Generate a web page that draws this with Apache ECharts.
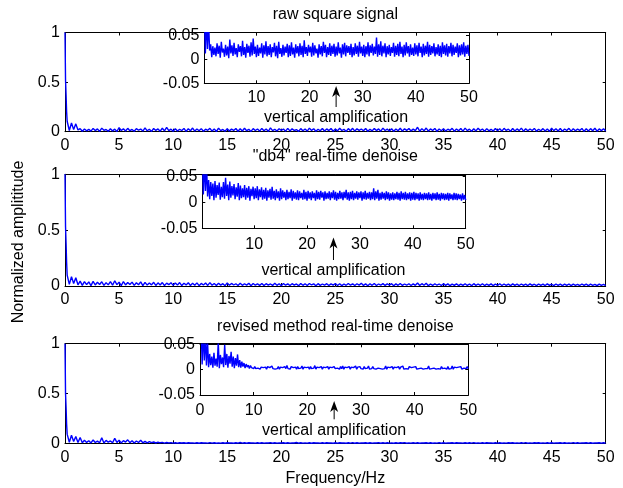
<!DOCTYPE html>
<html>
<head>
<meta charset="utf-8">
<script src="https://cdn.jsdelivr.net/npm/echarts@6/dist/echarts.min.js"></script>
<style>
  html, body { margin: 0; padding: 0; background: #fff; }
  #chart { width: 623px; height: 488px; }
</style>
</head>
<body>
<div id="chart"></div>
<script>
// Normalized amplitude spectra (0-50 Hz) of the raw square signal and two denoised versions.
// The first few bins around DC are finer; the rest use a 0.2 Hz bin width.
const spikeHz = [0, 0.05, 0.1, 0.15];
const binHz = 0.2; // spectrum values below start at 0.2 Hz and end at 50 Hz

const rawHead = [1.0, 0.52, 0.37, 0.2];
const rawAmp = [
  0.105, 0.012, 0.088, 0.021, 0.079, 0.018, 0.031, 0.004, 0.027, 0.009,
  0.024, 0.006, 0.033, 0.011, 0.028, 0.003, 0.036, 0.014, 0.022, 0.005,
  0.030, 0.008, 0.026, 0.002, 0.041, 0.012, 0.029, 0.007, 0.034, 0.010,
  0.023, 0.004, 0.031, 0.015, 0.027, 0.006, 0.038, 0.009, 0.025, 0.003,
  0.032, 0.013, 0.028, 0.005, 0.035, 0.008, 0.043, 0.011, 0.026, 0.004,
  0.030, 0.007, 0.024, 0.012, 0.033, 0.003, 0.029, 0.010, 0.037, 0.006,
  0.027, 0.009, 0.031, 0.004, 0.025, 0.014, 0.034, 0.006, 0.028, 0.002,
  0.036, 0.011, 0.023, 0.005, 0.030, 0.008, 0.026, 0.013, 0.032, 0.004,
  0.029, 0.007, 0.035, 0.010, 0.024, 0.003, 0.031, 0.012, 0.027, 0.006,
  0.033, 0.009, 0.028, 0.004, 0.039, 0.011, 0.025, 0.007, 0.030, 0.014,
  0.026, 0.005, 0.034, 0.008, 0.029, 0.012, 0.022, 0.003, 0.031, 0.010,
  0.027, 0.006, 0.036, 0.013, 0.030, 0.004, 0.025, 0.009, 0.033, 0.007,
  0.028, 0.011, 0.032, 0.005, 0.026, 0.008, 0.035, 0.012, 0.024, 0.003,
  0.031, 0.010, 0.034, 0.006, 0.029, 0.013, 0.027, 0.009, 0.032, 0.004,
  0.025, 0.008, 0.033, 0.011, 0.028, 0.005, 0.036, 0.012, 0.026, 0.007,
  0.030, 0.004, 0.027, 0.010, 0.035, 0.006, 0.029, 0.013, 0.032, 0.008,
  0.026, 0.011, 0.045, 0.005, 0.031, 0.009, 0.037, 0.006, 0.028, 0.012,
  0.033, 0.004, 0.027, 0.010, 0.030, 0.007, 0.025, 0.013, 0.034, 0.005,
  0.028, 0.009, 0.032, 0.006, 0.036, 0.011, 0.026, 0.004, 0.030, 0.008,
  0.035, 0.012, 0.027, 0.005, 0.031, 0.009, 0.024, 0.007, 0.033, 0.010,
  0.029, 0.006, 0.034, 0.013, 0.026, 0.004, 0.032, 0.008, 0.028, 0.011,
  0.036, 0.005, 0.030, 0.009, 0.027, 0.012, 0.033, 0.006, 0.025, 0.010,
  0.031, 0.007, 0.028, 0.004, 0.035, 0.011, 0.029, 0.008, 0.032, 0.005,
  0.027, 0.012, 0.034, 0.006, 0.030, 0.009, 0.026, 0.013, 0.033, 0.004,
  0.029, 0.008, 0.031, 0.010, 0.035, 0.005, 0.028, 0.011, 0.030, 0.007
];

const db4Head = [1.0, 0.53, 0.38, 0.21];
const db4Amp = [
  0.098, 0.015, 0.084, 0.022, 0.074, 0.011, 0.043, 0.006, 0.039, 0.012,
  0.036, 0.004, 0.041, 0.009, 0.033, 0.014, 0.038, 0.005, 0.030, 0.010,
  0.039, 0.007, 0.047, 0.012, 0.034, 0.004, 0.040, 0.009, 0.031, 0.013,
  0.035, 0.006, 0.029, 0.011, 0.037, 0.004, 0.032, 0.008, 0.027, 0.010,
  0.033, 0.005, 0.028, 0.009, 0.031, 0.003, 0.026, 0.012, 0.030, 0.006,
  0.027, 0.008, 0.031, 0.004, 0.025, 0.010, 0.029, 0.005, 0.024, 0.007,
  0.028, 0.003, 0.023, 0.009, 0.026, 0.005, 0.030, 0.007, 0.022, 0.004,
  0.025, 0.008, 0.021, 0.003, 0.027, 0.006, 0.023, 0.009, 0.020, 0.004,
  0.024, 0.006, 0.020, 0.008, 0.025, 0.003, 0.022, 0.007, 0.019, 0.005,
  0.023, 0.004, 0.021, 0.008, 0.018, 0.005, 0.024, 0.006, 0.020, 0.003,
  0.022, 0.007, 0.019, 0.004, 0.021, 0.008, 0.018, 0.003, 0.023, 0.006,
  0.020, 0.005, 0.022, 0.009, 0.019, 0.003, 0.021, 0.006, 0.018, 0.007,
  0.021, 0.004, 0.019, 0.008, 0.023, 0.005, 0.020, 0.003, 0.018, 0.006,
  0.022, 0.007, 0.019, 0.004, 0.020, 0.008, 0.024, 0.005, 0.019, 0.003,
  0.020, 0.006, 0.022, 0.004, 0.018, 0.007, 0.021, 0.005, 0.019, 0.008,
  0.021, 0.003, 0.019, 0.006, 0.022, 0.005, 0.018, 0.007, 0.020, 0.004,
  0.019, 0.006, 0.027, 0.004, 0.021, 0.007, 0.024, 0.003, 0.018, 0.005,
  0.020, 0.007, 0.018, 0.004, 0.021, 0.006, 0.019, 0.003, 0.017, 0.005,
  0.019, 0.004, 0.017, 0.006, 0.020, 0.005, 0.018, 0.003, 0.021, 0.006,
  0.018, 0.005, 0.020, 0.004, 0.017, 0.006, 0.019, 0.003, 0.018, 0.005,
  0.020, 0.004, 0.018, 0.006, 0.017, 0.003, 0.019, 0.005, 0.016, 0.004,
  0.018, 0.006, 0.017, 0.004, 0.019, 0.005, 0.016, 0.003, 0.018, 0.006,
  0.017, 0.004, 0.019, 0.005, 0.016, 0.003, 0.018, 0.006, 0.017, 0.004,
  0.016, 0.005, 0.018, 0.003, 0.017, 0.006, 0.015, 0.004, 0.018, 0.005,
  0.017, 0.004, 0.016, 0.006, 0.015, 0.003, 0.017, 0.005, 0.014, 0.004
];

const revisedHead = [1.0, 0.5, 0.36, 0.19];
const revisedAmp = [
  0.092, 0.010, 0.081, 0.018, 0.069, 0.008, 0.058, 0.005, 0.031, 0.009,
  0.026, 0.004, 0.033, 0.008, 0.022, 0.006, 0.055, 0.003, 0.029, 0.011,
  0.024, 0.005, 0.049, 0.009, 0.031, 0.004, 0.027, 0.012, 0.035, 0.006,
  0.026, 0.003, 0.023, 0.008, 0.030, 0.005, 0.019, 0.004, 0.016, 0.006,
  0.013, 0.003, 0.011, 0.005, 0.009, 0.002, 0.008, 0.004, 0.007, 0.002,
  0.006, 0.002, 0.005, 0.003, 0.006, 0.001, 0.005, 0.003, 0.004, 0.002,
  0.005, 0.001, 0.006, 0.003, 0.004, 0.002, 0.007, 0.002, 0.005, 0.001,
  0.004, 0.002, 0.006, 0.001, 0.005, 0.003, 0.004, 0.001, 0.006, 0.002,
  0.008, 0.002, 0.005, 0.001, 0.006, 0.003, 0.004, 0.002, 0.005, 0.001,
  0.006, 0.002, 0.004, 0.003, 0.007, 0.001, 0.005, 0.002, 0.004, 0.003,
  0.005, 0.001, 0.006, 0.002, 0.004, 0.003, 0.008, 0.001, 0.005, 0.002,
  0.004, 0.002, 0.006, 0.001, 0.005, 0.003, 0.004, 0.002, 0.006, 0.001,
  0.005, 0.003, 0.004, 0.001, 0.006, 0.002, 0.005, 0.003, 0.004, 0.001,
  0.006, 0.002, 0.007, 0.001, 0.005, 0.002, 0.004, 0.003, 0.006, 0.001,
  0.005, 0.002, 0.004, 0.003, 0.007, 0.001, 0.005, 0.002, 0.006, 0.002,
  0.004, 0.001, 0.006, 0.002, 0.005, 0.003, 0.007, 0.001, 0.004, 0.002,
  0.006, 0.002, 0.005, 0.001, 0.004, 0.003, 0.006, 0.002, 0.005, 0.001,
  0.004, 0.002, 0.007, 0.001, 0.005, 0.002, 0.004, 0.003, 0.006, 0.001,
  0.005, 0.003, 0.004, 0.002, 0.006, 0.001, 0.005, 0.002, 0.007, 0.001,
  0.004, 0.002, 0.005, 0.001, 0.006, 0.003, 0.004, 0.001, 0.005, 0.002,
  0.006, 0.001, 0.004, 0.002, 0.005, 0.003, 0.006, 0.001, 0.004, 0.002,
  0.005, 0.002, 0.007, 0.001, 0.004, 0.002, 0.005, 0.003, 0.006, 0.001,
  0.004, 0.002, 0.005, 0.001, 0.006, 0.002, 0.004, 0.003, 0.005, 0.001,
  0.006, 0.001, 0.004, 0.002, 0.007, 0.001, 0.005, 0.002, 0.004, 0.003,
  0.005, 0.002, 0.006, 0.001, 0.004, 0.003, 0.005, 0.002, 0.006, 0.002
];

// Axis ranges and tick labels
const mainXTicks = [0, 5, 10, 15, 20, 25, 30, 35, 40, 45, 50];
const mainYTicks = [0, 0.5, 1];
const insetYTicks = [-0.05, 0, 0.05];
const insetXTicksShort = [10, 20, 30, 40, 50];
const insetXTicksFull = [0, 10, 20, 30, 40, 50];

const titles = ['raw square signal', '"db4" real-time denoise', 'revised method real-time denoise'];
const noteText = 'vertical amplification';
const xName = 'Frequency/Hz';
const yName = 'Normalized amplititude';

function spectrum(head, tail) {
  const pts = spikeHz.map((f, i) => [f, head[i]]);
  tail.forEach((v, i) => pts.push([+((i + 1) * binHz).toFixed(1), v]));
  return pts;
}

const FONT = '"Liberation Sans", Arial, Helvetica, sans-serif';
const FS = 16;
const BLUE = '#0000ff';
const LW = 1.4;

// Layout of the three panels (main axes, magnified inset, annotation rows)
const panels = [
  { data: spectrum(rawHead, rawAmp), titleY: 15,
    main: { left: 65, top: 32.5, width: 540.7, height: 99.2 },
    inset: { left: 204.3, top: 32.7, width: 264.7, height: 50.6 },
    insetMin: 0.2, insetYMax: 0.055, insetTicks: insetXTicksShort, insetLabelMargin: 6,
    tipY: 86, tailY: 107, noteY: 117.7 },
  { data: spectrum(db4Head, db4Amp), titleY: 157,
    main: { left: 65, top: 174.3, width: 540.7, height: 111.7 },
    inset: { left: 202.3, top: 175, width: 263.4, height: 53.3 },
    insetMin: 0.2, insetYMax: 0.0525, insetTicks: insetXTicksShort, insetLabelMargin: 8,
    tipY: 237.5, tailY: 260, noteY: 271 },
  { data: spectrum(revisedHead, revisedAmp), titleY: 326.7,
    main: { left: 65, top: 343.7, width: 540.7, height: 99.6 },
    inset: { left: 200, top: 344.3, width: 268.3, height: 50.7 },
    insetMin: 0, insetYMax: 0.05, insetTicks: insetXTicksFull, insetLabelMargin: 8,
    tipY: 401, tailY: 419.3, noteY: 430.7 }
];

const grids = [], xAxes = [], yAxes = [], series = [];
const lineStyle = { color: '#000', width: 1 };
const label = (show, margin) => ({ show, color: '#000', fontSize: FS, fontFamily: FONT, margin });

function addAxes(gridIndex, xs, ys, z) {
  const xi = xAxes.length, yi = yAxes.length;
  ['bottom', 'top'].forEach((pos, k) => {
    xAxes.push({
      type: 'value', gridIndex, position: pos, min: xs.min, max: xs.max, z,
      axisLine: { show: true, onZero: false, lineStyle },
      axisTick: { show: true, inside: true, length: 3, lineStyle, customValues: xs.ticks },
      axisLabel: Object.assign(label(k === 0, xs.margin), { customValues: xs.ticks }),
      splitLine: { show: false }
    });
  });
  ['left', 'right'].forEach((pos, k) => {
    yAxes.push({
      type: 'value', gridIndex, position: pos, min: ys.min, max: ys.max, z,
      axisLine: { show: true, onZero: false, lineStyle },
      axisTick: { show: true, inside: true, length: 3, lineStyle, customValues: ys.ticks },
      axisLabel: Object.assign(label(k === 0, 5), { customValues: ys.ticks }),
      splitLine: { show: false }
    });
  });
  return { xi, yi };
}

panels.forEach((p, i) => {
  const gMain = grids.length;
  grids.push(Object.assign({ containLabel: false, z: 0 }, p.main));
  const m = addAxes(gMain, { min: 0, max: 50, ticks: mainXTicks, margin: 6 },
                    { min: 0, max: 1, ticks: mainYTicks }, 1);
  series.push({ type: 'line', xAxisIndex: m.xi, yAxisIndex: m.yi, data: p.data,
    showSymbol: false, symbol: 'none', clip: true, z: 2,
    lineStyle: { color: BLUE, width: LW }, animation: false });

  const gIn = grids.length;
  grids.push(Object.assign({ containLabel: false, show: true, backgroundColor: '#fff',
    borderWidth: 0, z: 5 }, p.inset));
  p.insetAxes = addAxes(gIn, { min: p.insetMin, max: 50, ticks: p.insetTicks, margin: p.insetLabelMargin },
                        { min: -0.05, max: p.insetYMax, ticks: insetYTicks }, 6);
  series.push({ type: 'line', xAxisIndex: p.insetAxes.xi, yAxisIndex: p.insetAxes.yi, data: p.data,
    showSymbol: false, symbol: 'none', clip: true, z: 6,
    lineStyle: { color: BLUE, width: LW }, animation: false });
});

const chart = echarts.init(document.getElementById('chart'), null, { renderer: 'canvas' });
chart.setOption({
  backgroundColor: '#fff',
  animation: false,
  textStyle: { fontFamily: FONT },
  grid: grids, xAxis: xAxes, yAxis: yAxes, series
});

// Titles, axis names and the "vertical amplification" arrows
const centerX = 65 + 540.7 / 2;
const txt = (x, y, text, extra) => Object.assign({
  type: 'text', x, y, z: 20,
  style: { text, fill: '#000', font: FS + 'px ' + FONT, align: 'center', verticalAlign: 'middle' }
}, extra || {});

const graphics = [];
panels.forEach((p, i) => {
  graphics.push(txt(centerX, p.titleY, titles[i]));
  const ax = chart.convertToPixel({ xAxisIndex: p.insetAxes.xi }, 25);
  graphics.push({
    type: 'polygon', z: 20,
    shape: { points: [[ax, p.tipY], [ax + 4, p.tipY + 11], [ax, p.tipY + 8], [ax - 4, p.tipY + 11]] },
    style: { fill: '#000' }
  });
  graphics.push({
    type: 'line', z: 20,
    shape: { x1: ax, y1: p.tipY + 8, x2: ax, y2: p.tailY },
    style: { stroke: '#000', lineWidth: 1 }
  });
  graphics.push(txt(ax, p.noteY, noteText));
});
graphics.push(txt(centerX, 479, xName));
graphics.push(txt(19, 242, yName, { rotation: Math.PI / 2 }));

chart.setOption({ graphic: graphics });
</script>
</body>
</html>
